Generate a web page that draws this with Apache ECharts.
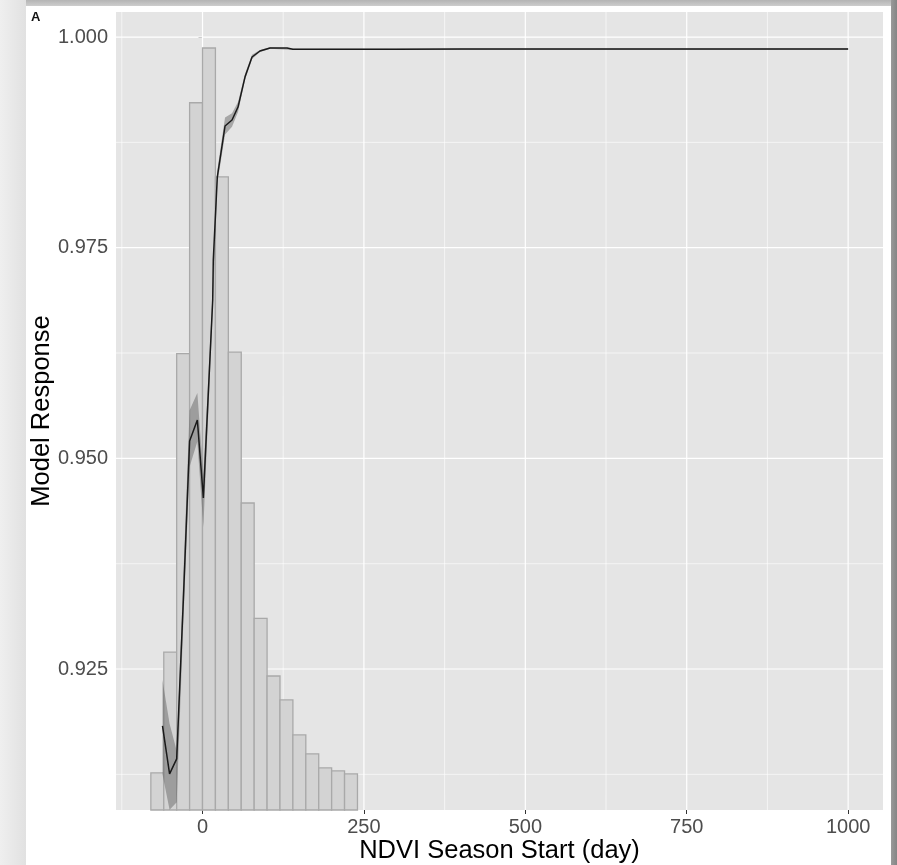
<!DOCTYPE html>
<html>
<head>
<meta charset="utf-8">
<script src="https://cdn.jsdelivr.net/npm/echarts@6/dist/echarts.min.js"></script>
<style>
html,body{margin:0;padding:0;background:#ffffff;}
#chart{width:897px;height:865px;}
</style>
</head>
<body>
<div id="chart"></div>
<script>
// ---- data ----
const binStarts = [-80, -60, -40, -20, 0, 20, 40, 60, 80, 100, 120, 140, 160, 180, 200, 220];
const binEnds   = [-60, -40, -20, 0, 20, 40, 60, 80, 100, 120, 140, 160, 180, 200, 220, 240];
const barHeights = [0.91268, 0.92701, 0.96244, 0.99220, 0.99870, 0.98341, 0.96260, 0.94470,
                    0.93100, 0.92417, 0.92133, 0.91718, 0.91493, 0.91327, 0.91291, 0.91256];

const curveX = [-62, -51, -40, -29.7, -20, -8, 1.3, 15.8, 16.7, 22.9, 34.9, 45.7, 55, 65.8, 76.7, 89,
                104.6, 131, 140, 200, 300, 400, 500, 600, 700, 800, 900, 1000];
const curveY = [0.91825, 0.91256, 0.91434, 0.93319, 0.95206, 0.95455, 0.94529, 0.96879, 0.97354, 0.98339,
                0.98944, 0.99015, 0.99169, 0.99525, 0.99763, 0.99834, 0.99869, 0.99869, 0.99854, 0.99856,
                0.99856, 0.99857, 0.99857, 0.99858, 0.99858, 0.99858, 0.99858, 0.99858];

const ribX  = [-62, -51, -40, -29.7, -20, -8, 1.3, 15.8, 22.9, 34.9, 45.7, 55, 65.8, 76.7, 89, 104.6, 140, 1000];
const ribLo = [0.9125, 0.9083, 0.9092, 0.9305, 0.9490, 0.9520, 0.94185, 0.9675, 0.9826, 0.98844, 0.98935,
               0.9911, 0.9949, 0.9974, 0.99822, 0.9986, 0.99846, 0.9985];
const ribHi = [0.9237, 0.9185, 0.9153, 0.9360, 0.9557, 0.95775, 0.9480, 0.9700, 0.9842, 0.99044, 0.99095,
               0.9923, 0.9956, 0.9979, 0.99846, 0.99878, 0.99862, 0.99866];

const xTicks = [0, 250, 500, 750, 1000];
const xMinorGrid = [-125, 125, 375, 625, 875];
const yTicks = [0.925, 0.95, 0.975, 1.0];
const yMinorGrid = [0.9125, 0.9375, 0.9625, 0.9875];

const xMin = -134, xMax = 1054;
const yMin = 0.90827, yMax = 1.00297;

// ---- chart ----
const chart = echarts.init(document.getElementById('chart'), null, {renderer: 'canvas'});
const FONT = "'Liberation Sans', Arial, Helvetica, sans-serif";

// grid lines rows: [x, y, major(1)/minor(0)]
const vGridRows = xTicks.map(v => [v, yMin, 1]).concat(xMinorGrid.map(v => [v, yMin, 0]));
const hGridRows = yTicks.map(v => [xMin, v, 1]).concat(yMinorGrid.map(v => [xMin, v, 0]));

function gridRender(vertical) {
  return function (params, api) {
    const major = api.value(2) === 1;
    let p0, p1;
    if (vertical) {
      p0 = api.coord([api.value(0), yMin]);
      p1 = api.coord([api.value(0), yMax]);
    } else {
      p0 = api.coord([xMin, api.value(1)]);
      p1 = api.coord([xMax, api.value(1)]);
    }
    return {
      type: 'line',
      shape: {x1: p0[0], y1: p0[1], x2: p1[0], y2: p1[1]},
      style: {stroke: '#ffffff', lineWidth: major ? 1.2 : 0.6}
    };
  };
}

const option = {
  animation: false,
  backgroundColor: '#ffffff',
  graphic: [
    {type: 'rect', left: 0, top: 0, shape: {width: 26, height: 865},
     style: {fill: new echarts.graphic.LinearGradient(0, 0, 1, 0, [{offset: 0, color: '#efefef'}, {offset: 1, color: '#e1e1e1'}])}},
    {type: 'rect', left: 26, top: 0, shape: {width: 865, height: 6},
     style: {fill: new echarts.graphic.LinearGradient(0, 0, 0, 1, [{offset: 0, color: '#b4b4b4'}, {offset: 1, color: '#cdcdcd'}])}},
    {type: 'rect', left: 891, top: 0, shape: {width: 6, height: 865},
     style: {fill: new echarts.graphic.LinearGradient(0, 0, 1, 0, [{offset: 0, color: '#9a9a9a'}, {offset: 1, color: '#858585'}])}},
    {type: 'text', left: 31, top: 11, style: {text: 'A', font: 'bold 13px ' + FONT, fill: '#111'}}
  ],
  grid: {
    left: 116, right: 14, top: 12, bottom: 55,
    outerBoundsMode: 'none', containLabel: false,
    show: true, backgroundColor: '#e5e5e5', borderWidth: 0
  },
  xAxis: {
    type: 'value', min: xMin, max: xMax,
    axisLine: {show: false},
    splitLine: {show: false},
    minorSplitLine: {show: false},
    axisTick: {show: true, customValues: xTicks, length: 4, lineStyle: {color: '#333333', width: 1}},
    axisLabel: {customValues: xTicks, margin: 7, fontSize: 20, color: '#4d4d4d', fontFamily: FONT,
                formatter: v => String(v)},
    name: 'NDVI Season Start (day)', nameLocation: 'middle', nameGap: 28, nameMoveOverlap: false,
    nameTextStyle: {fontSize: 25.5, color: '#000000', fontFamily: FONT}
  },
  yAxis: {
    type: 'value', min: yMin, max: yMax,
    axisLine: {show: false},
    splitLine: {show: false},
    minorSplitLine: {show: false},
    axisTick: {show: true, customValues: yTicks, length: 4, lineStyle: {color: '#333333', width: 1}},
    axisLabel: {customValues: yTicks, margin: 8, fontSize: 20, color: '#4d4d4d', fontFamily: FONT,
                formatter: v => v.toFixed(3)},
    name: 'Model Response', nameLocation: 'middle', nameGap: 61, nameRotate: 90, nameMoveOverlap: false,
    nameTextStyle: {fontSize: 25.5, color: '#000000', fontFamily: FONT}
  },
  series: [
    {
      type: 'custom', z: 1, silent: true,
      encode: {x: 0, y: 1},
      data: vGridRows,
      renderItem: gridRender(true)
    },
    {
      type: 'custom', z: 1, silent: true,
      encode: {x: 0, y: 1},
      data: hGridRows,
      renderItem: gridRender(false)
    },
    {
      type: 'custom', z: 2, silent: true,
      encode: {x: [0, 1], y: 2},
      data: binStarts.map((s, i) => [s, binEnds[i], barHeights[i]]),
      renderItem: function (params, api) {
        const p0 = api.coord([api.value(0), api.value(2)]);
        const p1 = api.coord([api.value(1), yMin]);
        return {
          type: 'rect',
          shape: {x: p0[0], y: p0[1], width: p1[0] - p0[0], height: p1[1] - p0[1]},
          style: {fill: '#d3d3d3', stroke: '#a9a9a9', lineWidth: 1.3}
        };
      }
    },
    {
      type: 'custom', z: 3, silent: true,
      encode: {x: 0, y: 1},
      data: [[ribX[0], ribHi[0]]],
      renderItem: function (params, api) {
        const pts = [];
        for (let i = 0; i < ribX.length; i++) pts.push(api.coord([ribX[i], ribHi[i]]));
        for (let i = ribX.length - 1; i >= 0; i--) pts.push(api.coord([ribX[i], ribLo[i]]));
        return {type: 'polygon', shape: {points: pts}, style: {fill: 'rgba(90,90,90,0.45)'}};
      }
    },
    {
      type: 'line', z: 4, silent: true,
      data: curveX.map((x, i) => [x, curveY[i]]),
      showSymbol: false, symbol: 'none', smooth: false,
      lineStyle: {color: '#1a1a1a', width: 1.5}
    }
  ]
};
chart.setOption(option);
</script>
</body>
</html>
